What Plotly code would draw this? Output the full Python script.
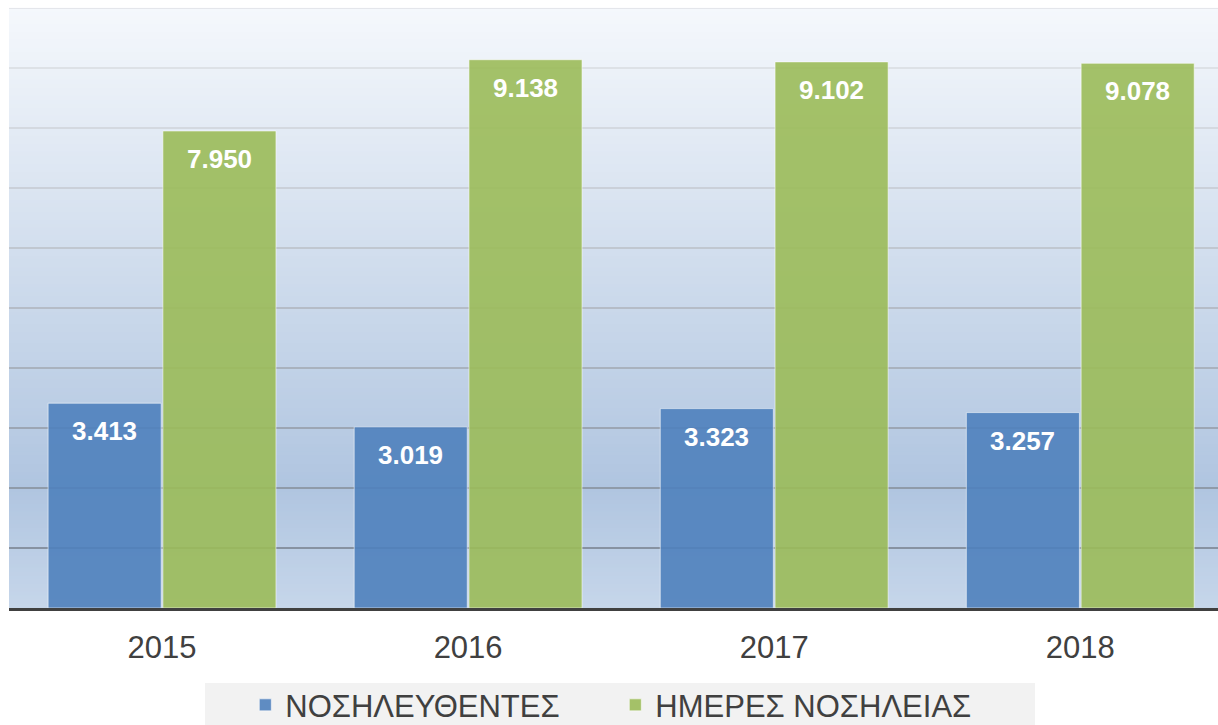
import plotly.graph_objects as go

years = ["2015", "2016", "2017", "2018"]
patients = [3413, 3019, 3323, 3257]
days = [7950, 9138, 9102, 9078]
series_names = ["ΝΟΣΗΛΕΥΘΕΝΤΕΣ", "ΗΜΕΡΕΣ ΝΟΣΗΛΕΙΑΣ"]
grid_values = [1000, 2000, 3000, 4000, 5000, 6000, 7000, 8000, 9000, 10000]

def fmt(v):
    return f"{v:,}".replace(",", ".")

def lerp(c1, c2, t):
    return tuple(round(a + (b - a) * t) for a, b in zip(c1, c2))

fig = go.Figure()
fig.add_trace(go.Bar(
    x=years, y=patients, name=series_names[0],
    marker=dict(color="rgba(79,129,189,0.9)", line=dict(color="rgba(255,255,255,0.55)", width=1)),
    hoverinfo="skip",
))
fig.add_trace(go.Bar(
    x=years, y=days, name=series_names[1],
    marker=dict(color="rgba(155,187,89,0.9)", line=dict(color="rgba(255,255,255,0.55)", width=1)),
    hoverinfo="skip",
))

shapes = []
# background gradient
top = (245, 248, 252)
mid = (176, 197, 224)
bot = (198, 214, 234)
N = 150
for i in range(N):
    t = (i + 0.5) / N  # 0 at top, 1 at bottom
    if t < 0.8:
        c = lerp(top, mid, t / 0.8)
    else:
        c = lerp(mid, bot, (t - 0.8) / 0.2)
    shapes.append(dict(type="rect", xref="paper", yref="paper",
                       x0=0, x1=1, y0=1 - (i + 1) / N, y1=1 - i / N + 0.0005,
                       fillcolor="rgb(%d,%d,%d)" % c, line=dict(width=0), layer="below"))
# gridlines
g_top = (222, 225, 230)
g_bot = (118, 126, 138)
for v in grid_values:
    t = ((10000 - v) / 9000) ** 1.3
    c = lerp(g_top, g_bot, t)
    shapes.append(dict(type="line", xref="paper", yref="y", x0=0, x1=1, y0=v, y1=v,
                       line=dict(color="rgb(%d,%d,%d)" % c, width=1.6), layer="between"))
# legend background
shapes.append(dict(type="rect", xref="paper", yref="paper",
                   x0=(205 - 9) / 1209, x1=(1035 - 9) / 1209,
                   y0=-0.2, y1=-0.125, fillcolor="#F2F2F2", line=dict(width=0), layer="below"))

annotations = []
for i, (p, d) in enumerate(zip(patients, days)):
    for val, off in ((p, -0.1875), (d, 0.1875)):
        annotations.append(dict(x=i + off, y=val, xref="x", yref="y", text=fmt(val),
                                showarrow=False, yanchor="middle", yshift=-28,
                                font=dict(family="Liberation Sans, Arial", size=26, color="white", weight="bold")))

fig.update_layout(
    width=1218, height=725,
    margin=dict(l=9, r=0, t=8, b=117, autoexpand=False),
    paper_bgcolor="white", plot_bgcolor="rgba(0,0,0,0)",
    barmode="group", bargap=0.25, bargroupgap=0.015,
    shapes=shapes, annotations=annotations,
    font=dict(family="Liberation Sans, Arial", color="#404040"),
    xaxis=dict(range=[-0.5, 3.45], showgrid=False, showline=True, linecolor="#404040",
               linewidth=3, ticks="", tickfont=dict(size=31, color="#404040"),
               ticklabelstandoff=10, fixedrange=True),
    yaxis=dict(range=[0, 10000], showgrid=False, showticklabels=False, zeroline=False,
               showline=False, fixedrange=True),
    legend=dict(orientation="h", x=0.5015, xanchor="center", y=-0.117, yanchor="top",
                bgcolor="rgba(0,0,0,0)", font=dict(size=31, color="#404040"),
                entrywidth=325, traceorder="normal"),
    showlegend=True,
)

fig.write_html("out.html", config={"displayModeBar": False},
               post_script="document.body.style.margin='0';document.body.style.overflow='hidden';")
